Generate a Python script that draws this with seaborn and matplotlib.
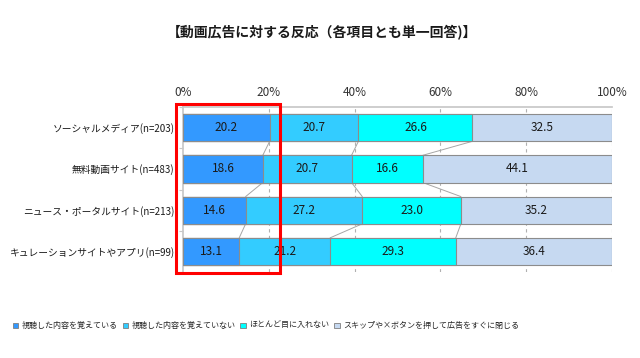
import numpy as np
import pandas as pd
import matplotlib
matplotlib.use("Agg")
import matplotlib.pyplot as plt
from matplotlib.patches import Rectangle, Patch
from matplotlib.ticker import FixedLocator
import seaborn as sns

# data
title = "【動画広告に対する反応（各項目とも単一回答)】"
categories = ["ソーシャルメディア(n=203)", "無料動画サイト(n=483)",
              "ニュース・ポータルサイト(n=213)", "キュレーションサイトやアプリ(n=99)"]
series_names = ["視聴した内容を覚えている", "視聴した内容を覚えていない",
                "ほとんど目に入れない", "スキップや×ボタンを押して広告をすぐに閉じる"]
remember = [20.2, 18.6, 14.6, 13.1]
not_remember = [20.7, 20.7, 27.2, 21.2]
ignore = [26.6, 16.6, 23.0, 29.3]
skip = [32.5, 44.1, 35.2, 36.4]
colors = ["#3399FF", "#33CCFF", "#00FFFF", "#C6D9F1"]
xticks = [0, 20, 40, 60, 80, 100]

sns.set_theme(style="white")
plt.rcParams["font.family"] = ["Noto Sans CJK JP", "DejaVu Sans"]

df = pd.DataFrame({"cat": categories, "s1": remember, "s2": not_remember,
                   "s3": ignore, "s4": skip})
vals = df[["s1", "s2", "s3", "s4"]].to_numpy()
cum = np.cumsum(vals, axis=1)

fig = plt.figure(figsize=(6.4, 3.58), dpi=100)
ax = fig.add_axes([0.286, 0.240, 0.670, 0.461])

# draw cumulative bars from the longest to the shortest so they stack
for j in range(3, -1, -1):
    tmp = pd.DataFrame({"cat": categories, "v": cum[:, j]})
    sns.barplot(data=tmp, x="v", y="cat", orient="h", color=colors[j],
                saturation=1, width=0.66, edgecolor="#8c8c8c", linewidth=0.8,
                ax=ax, zorder=3)

# value labels
for i in range(len(categories)):
    left = 0
    for j in range(4):
        ax.text(left + vals[i, j] / 2, i, f"{vals[i, j]:.1f}", ha="center",
                va="center", fontsize=8.5, color="#1a1a1a", zorder=5)
        left += vals[i, j]

# series connector lines
h = 0.33
for i in range(len(categories) - 1):
    for j in range(3):
        ax.plot([cum[i, j], cum[i + 1, j]], [i + h, i + 1 - h],
                color="#a6a6a6", lw=0.7, zorder=2)

ax.set_xlim(0, 100)
ax.set_ylim(3.5, -0.5)
ax.set_xticks(xticks)
ax.set_xticklabels([f"{t}%" for t in xticks], fontsize=8.5, color="#333333")
ax.xaxis.tick_top()
ax.tick_params(axis="x", length=0, pad=6)
ax.tick_params(axis="y", length=0, pad=6, labelsize=7, labelcolor="#1a1a1a")
ax.yaxis.set_minor_locator(FixedLocator([-0.5, 0.5, 1.5, 2.5, 3.5]))
ax.tick_params(axis="y", which="minor", length=3, width=0.8, color="#c8c8c8",
               left=True)
ax.set_xlabel("")
ax.set_ylabel("")
for t in [20, 40, 60, 80, 100]:
    ax.axvline(t, color="#b0b0b0", lw=0.8, ls=(0, (3, 3)), zorder=1)
for s in ["bottom", "right"]:
    ax.spines[s].set_visible(False)
ax.spines["top"].set_color("#c8c8c8")
ax.spines["left"].set_color("#c8c8c8")

fig.text(0.503, 0.908, title, ha="center", va="center", fontsize=10,
         fontweight="bold", color="#1a1a1a")

# red highlight box
fig.patches.append(Rectangle((176 / 640, 1 - 273 / 358), 104 / 640, 169 / 358,
                             transform=fig.transFigure, fill=False,
                             edgecolor="#ff0000", lw=2.2, zorder=10))

handles = [Patch(facecolor=c, edgecolor="#7f7f7f", lw=0.6) for c in colors]
fig.legend(handles, series_names, loc="center left", bbox_to_anchor=(0.015, 0.09),
           ncol=4, frameon=False, fontsize=5.8, handlelength=0.7, handleheight=0.7,
           handletextpad=0.4, columnspacing=0.6, borderaxespad=0)

fig.savefig("out.png", dpi=100)
